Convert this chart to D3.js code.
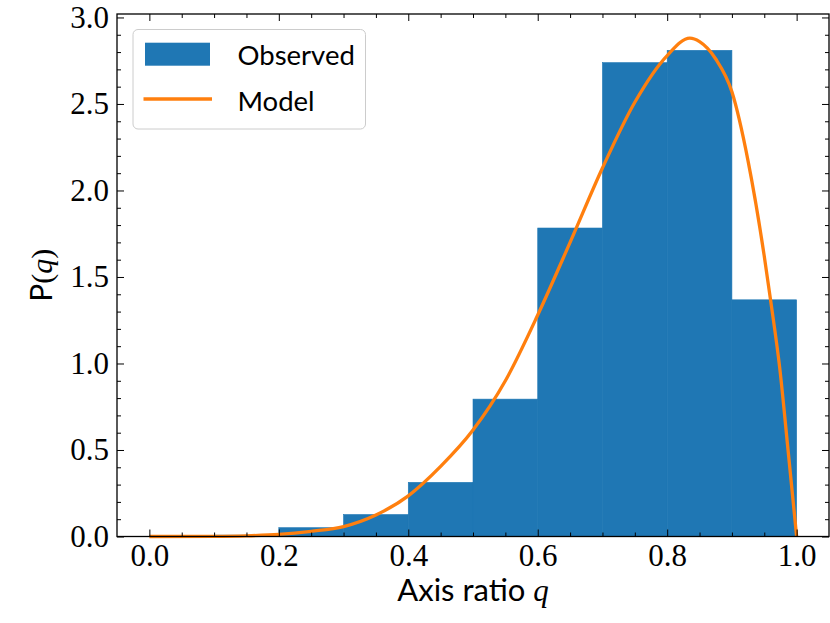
<!DOCTYPE html>
<html>
<head>
<meta charset="utf-8">
<script src="https://cdn.jsdelivr.net/npm/d3@7"></script>
<style>
  body { margin: 0; background: #fff; }
  svg { display: block; }
</style>
</head>
<body>
<div id="paper"></div>
<script>
// axis ratio histogram with model curve

let barColour = "#1f77b4";
let lineColour = "#ff7f0e";

// histogram bins (edges, width 0.1) and observed densities
const binEdges = [0.0, 0.1, 0.2, 0.3, 0.4, 0.5, 0.6, 0.7, 0.8, 0.9, 1.0];
const observed = [0.0, 0.008, 0.051, 0.127, 0.313, 0.794, 1.783, 2.739, 2.81, 1.368];

// model curve
const modelQ = [0.0, 0.1, 0.15, 0.2, 0.25, 0.3, 0.35, 0.4, 0.45, 0.5, 0.55, 0.6, 0.65, 0.7, 0.75, 0.8, 0.835, 0.85, 0.875, 0.9, 0.925, 0.95, 0.96, 0.974, 0.987, 1.0];
const modelP = [0.0, 0.001, 0.004, 0.012, 0.03, 0.057, 0.124, 0.235, 0.405, 0.615, 0.90, 1.28, 1.70, 2.13, 2.51, 2.78, 2.88, 2.86, 2.76, 2.57, 2.17, 1.62, 1.36, 0.97, 0.49, 0.0];

const xTicks = [0.0, 0.2, 0.4, 0.6, 0.8, 1.0];
const yTicks = [0.0, 0.5, 1.0, 1.5, 2.0, 2.5, 3.0];

const width = 830, height = 623;
const serif = "'Liberation Serif', 'DejaVu Serif', serif";
const sans = "Lato, 'Noto Sans', sans-serif";

const svg = d3
  .select("#paper")
  .append("svg")
  .attr("width", width)
  .attr("height", height)
  .style("background-color", "#fff");

const x = d3.scaleLinear().domain([-0.05, 1.05]).range([117, 829]);
const y = d3.scaleLinear().domain([0, 3.02]).range([536.5, 14]);

// bars
const bins = observed.map((v, i) => ({ x0: binEdges[i], x1: binEdges[i + 1], v: v }));
svg
  .append("g")
  .selectAll("rect")
  .data(bins)
  .join("rect")
  .attr("x", (d) => x(d.x0))
  .attr("width", (d) => x(d.x1) - x(d.x0))
  .attr("y", (d) => y(d.v))
  .attr("height", (d) => y(0) - y(d.v))
  .style("fill", barColour)
  .style("stroke", barColour)
  .style("stroke-width", 0.6);

// model line
const line = d3
  .line()
  .x((d) => x(d[0]))
  .y((d) => y(d[1]))
  .curve(d3.curveMonotoneX);

svg
  .append("path")
  .datum(modelQ.map((q, i) => [q, modelP[i]]))
  .attr("d", line)
  .style("fill", "none")
  .style("stroke", lineColour)
  .style("stroke-width", 3.3);

// axes, ticks pointing inwards on all four sides
const xMinor = d3.range(0, 21).map((i) => i * 0.05).filter((v) => Math.round(v * 100) % 20 != 0);
const yMinor = d3.range(0, 31).map((i) => i * 0.1).filter((v) => Math.round(v * 10) % 5 != 0);

function styleAxis(g) {
  g.select(".domain").remove();
  g.selectAll("line").style("stroke", "#000").style("stroke-width", 1);
  g.selectAll("text").style("font-family", serif).style("font-size", "31px").style("fill", "#000");
}

svg.append("g")
  .attr("transform", `translate(0,${y.range()[0]})`)
  .call(d3.axisBottom(x).tickValues(xTicks).tickFormat(d3.format(".1f")).tickSize(-7).tickPadding(7))
  .call(styleAxis);
svg.append("g")
  .attr("transform", `translate(0,${y.range()[0]})`)
  .call(d3.axisBottom(x).tickValues(xMinor).tickFormat("").tickSize(-4))
  .call(styleAxis);
svg.append("g")
  .attr("transform", `translate(0,${y.range()[1]})`)
  .call(d3.axisTop(x).tickValues(xTicks).tickFormat("").tickSize(-7))
  .call(styleAxis);
svg.append("g")
  .attr("transform", `translate(0,${y.range()[1]})`)
  .call(d3.axisTop(x).tickValues(xMinor).tickFormat("").tickSize(-4))
  .call(styleAxis);

svg.append("g")
  .attr("transform", `translate(${x.range()[0]},0)`)
  .call(d3.axisLeft(y).tickValues(yTicks).tickFormat(d3.format(".1f")).tickSize(-7).tickPadding(8))
  .call(styleAxis);
svg.append("g")
  .attr("transform", `translate(${x.range()[0]},0)`)
  .call(d3.axisLeft(y).tickValues(yMinor).tickFormat("").tickSize(-4))
  .call(styleAxis);
svg.append("g")
  .attr("transform", `translate(${x.range()[1]},0)`)
  .call(d3.axisRight(y).tickValues(yTicks).tickFormat("").tickSize(-7))
  .call(styleAxis);
svg.append("g")
  .attr("transform", `translate(${x.range()[1]},0)`)
  .call(d3.axisRight(y).tickValues(yMinor).tickFormat("").tickSize(-4))
  .call(styleAxis);

// frame
svg
  .append("rect")
  .attr("x", x.range()[0])
  .attr("y", y.range()[1])
  .attr("width", x.range()[1] - x.range()[0])
  .attr("height", y.range()[0] - y.range()[1])
  .style("fill", "none")
  .style("stroke", "#000")
  .style("stroke-width", 1.3);

// axis labels
const xl = svg
  .append("text")
  .attr("x", (x.range()[0] + x.range()[1]) / 2)
  .attr("y", 601)
  .attr("text-anchor", "middle")
  .style("font-size", "31px")
  .style("fill", "#000");
xl.append("tspan").style("font-family", sans).text("Axis ratio ");
xl.append("tspan").style("font-family", serif).style("font-style", "italic").text("q");

const yl = svg
  .append("text")
  .attr("transform", `translate(52,${(y.range()[0] + y.range()[1]) / 2}) rotate(-90)`)
  .attr("text-anchor", "middle")
  .style("font-size", "30px")
  .style("fill", "#000");
yl.append("tspan").style("font-family", sans).text("P");
yl.append("tspan").style("font-family", serif).text("(");
yl.append("tspan").style("font-family", serif).style("font-style", "italic").text("q");
yl.append("tspan").style("font-family", serif).text(")");

// legend
const legend = svg.append("g");
legend
  .append("rect")
  .attr("x", 133)
  .attr("y", 29.5)
  .attr("width", 232.5)
  .attr("height", 99.5)
  .attr("rx", 5)
  .style("fill", "#fff")
  .style("fill-opacity", 0.8)
  .style("stroke", "#cccccc")
  .style("stroke-width", 1);
legend
  .append("rect")
  .attr("x", 145)
  .attr("y", 42.7)
  .attr("width", 65)
  .attr("height", 23)
  .style("fill", barColour);
legend
  .append("line")
  .attr("x1", 143.5)
  .attr("x2", 212)
  .attr("y1", 99)
  .attr("y2", 99)
  .style("stroke", lineColour)
  .style("stroke-width", 3.3);
legend
  .selectAll("text")
  .data(["Observed", "Model"])
  .join("text")
  .attr("x", 237.5)
  .attr("y", (d, i) => 65 + i * 46)
  .style("font-family", sans)
  .style("font-size", "27.5px")
  .style("fill", "#000")
  .text((d) => d);
</script>
</body>
</html>
